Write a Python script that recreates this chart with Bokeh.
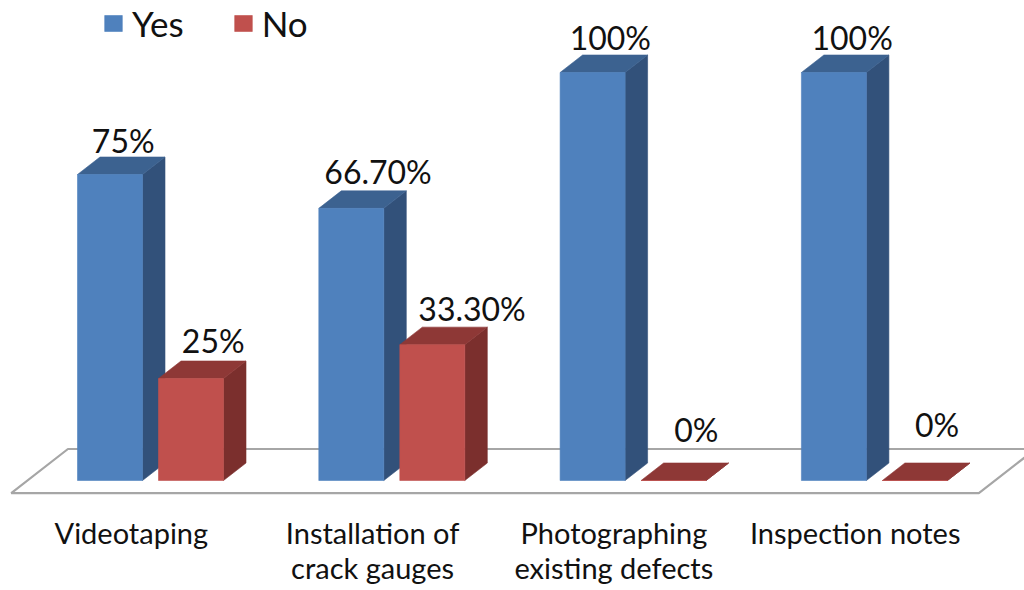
from bokeh.plotting import figure
from bokeh.models import Range1d, ColumnDataSource, Legend, LegendItem
from bokeh.core.properties import value
from bokeh.embed import file_html
from bokeh.resources import INLINE

# ---- data -------------------------------------------------------------
categories = ["Videotaping", "Installation of\ncrack gauges",
              "Photographing\nexisting defects", "Inspection notes"]
series_names = ["Yes", "No"]
yes_values = [75, 66.7, 100, 100]
no_values = [25, 33.3, 0, 0]
yes_labels = ["75%", "66.70%", "100%", "100%"]
no_labels = ["25%", "33.30%", "0%", "0%"]

# ---- layout constants ---------------------------------------------------
W, H = 1024, 590
PX_X = 241.3       # pixels per category step
X0_PX = 150.0      # pixel column of the first category centre
BASE_PX = 480.0    # pixel row of the zero level
PX_Y = 4.08        # pixels per percentage point

BAR_W = 65 / PX_X
BAR_GAP = 16 / PX_X
DX = 22.5 / PX_X   # oblique depth, horizontal part
DY = 17.5 / PX_Y   # oblique depth, vertical part
FLOOR_FRONT = -0.72   # floor front edge, in bar depths
FLOOR_BACK = 1.8      # floor back edge, in bar depths
FLOOR_L, FLOOR_R = -0.51, 3.5

FONT = "Lato"
TEXT_COLOR = "#111111"
LABEL_LIFT = -13   # common pixel lift of the value labels

# per-label nudges (pixels) for the value labels
yes_nudge_x = [2, 15.5, 6.5, 7]
yes_nudge_y = [-3.5, -6.5, -4.5, -4.5]
no_nudge_x = [11, 28.5, 11.5, 11]
no_nudge_y = [-7.5, -5.5, -20.5, -25.5]

colors = {
    "Yes": dict(front="#4F81BD", side="#32517A", top="#3C6290"),
    "No": dict(front="#C0504D", side="#7B2F2D", top="#8E3836"),
}

p = figure(width=W, height=H, output_backend="svg", toolbar_location=None,
           x_range=Range1d(-X0_PX / PX_X, (W - X0_PX) / PX_X),
           y_range=Range1d(-(H - BASE_PX) / PX_Y, BASE_PX / PX_Y),
           x_axis_location=None, y_axis_location=None, min_border=0)
p.grid.visible = False
p.outline_line_color = None
p.background_fill_color = "white"

# floor
fx = [FLOOR_L + FLOOR_FRONT * DX, FLOOR_R + FLOOR_FRONT * DX,
      FLOOR_R + FLOOR_BACK * DX, FLOOR_L + FLOOR_BACK * DX]
fy = [FLOOR_FRONT * DY, FLOOR_FRONT * DY, FLOOR_BACK * DY, FLOOR_BACK * DY]
p.patch(fx, fy, fill_color="white", line_color="#A6A6A6", line_width=2.2)

front_renderers = []
for k, (name, vals, labels, nx, ny) in enumerate([
        ("Yes", yes_values, yes_labels, yes_nudge_x, yes_nudge_y),
        ("No", no_values, no_labels, no_nudge_x, no_nudge_y)]):
    shift = (k - 0.5) * (BAR_W + BAR_GAP)
    xc = [i + shift for i in range(len(vals))]
    side_xs, side_ys, top_xs, top_ys = [], [], [], []
    for c, v in zip(xc, vals):
        x0, x1 = c - BAR_W / 2, c + BAR_W / 2
        side_xs.append([x1, x1 + DX, x1 + DX, x1])
        side_ys.append([0, DY, v + DY, v])
        top_xs.append([x0, x0 + DX, x1 + DX, x1])
        top_ys.append([v, v + DY, v + DY, v])
    col = colors[name]
    p.patches(side_xs, side_ys, fill_color=col["side"], line_color=col["side"], line_width=0.6)
    p.patches(top_xs, top_ys, fill_color=col["top"], line_color=col["top"], line_width=0.6)
    src = ColumnDataSource(dict(x=xc, top=vals))
    r = p.vbar(x="x", top="top", bottom=0, width=BAR_W, source=src,
               fill_color=col["front"], line_color=col["front"], line_width=0.6)
    front_renderers.append(r)

    lab = ColumnDataSource(dict(x=[c + DX / 2 for c in xc], y=[v + DY for v in vals],
                                text=labels, dx=nx, dy=[d + LABEL_LIFT for d in ny]))
    p.text(x="x", y="y", text="text", x_offset="dx", y_offset="dy", source=lab,
           text_align="center", text_baseline="alphabetic",
           text_font=value(FONT), text_font_size="32px", text_color=TEXT_COLOR)

# category labels along the front edge of the floor
cat_src = ColumnDataSource(dict(x=[i + FLOOR_FRONT * DX for i in range(len(categories))],
                                y=[FLOOR_FRONT * DY] * len(categories), text=categories))
p.text(x="x", y="y", text="text", source=cat_src, x_offset=-3, y_offset=22,
       text_align="center", text_baseline="top", text_line_height=1.0,
       text_font=value(FONT), text_font_size="29px", text_color=TEXT_COLOR)

legend = Legend(items=[LegendItem(label=n, renderers=[r])
                       for n, r in zip(series_names, front_renderers)],
                orientation="horizontal", location=(102, 546),
                glyph_width=22, glyph_height=20, label_standoff=8, spacing=48,
                padding=0, margin=0, border_line_alpha=0, background_fill_alpha=0,
                label_text_font=FONT, label_text_font_size="35px",
                label_text_color=TEXT_COLOR)
p.add_layout(legend)

open("out.html", "w").write(file_html(p, INLINE))
